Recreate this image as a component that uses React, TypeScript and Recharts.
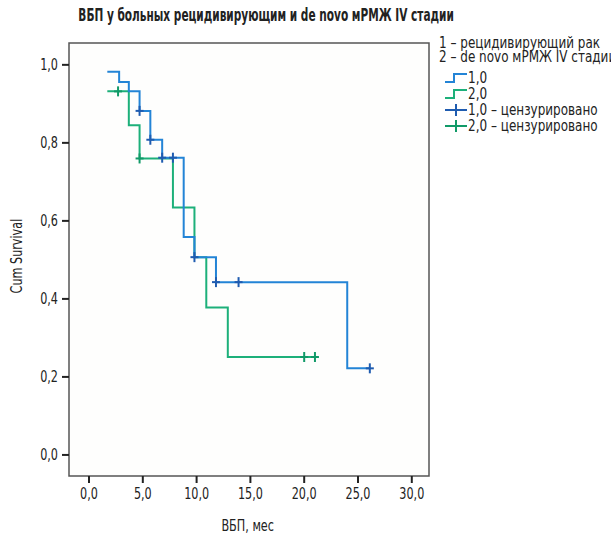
import {
  ComposedChart,
  Line,
  Scatter,
  XAxis,
  YAxis,
  ReferenceArea,
} from "recharts";

const FONT = "'DejaVu Sans Condensed', 'DejaVu Sans', sans-serif";
const SQUEEZE = 0.78; // reference font is a narrow one
const BLUE = "#2384d6";
const BLUE_MARK = "#1f5cb0";
const GREEN = "#1db07a";
const GREEN_MARK = "#119a68";

// group 1,0 – recurrent
const blueTimes = [1.7, 2.8, 3.7, 4.7, 5.7, 6.8, 8.8, 9.8, 11.8, 24.0, 26.1];
const blueSurv = [0.982, 0.956, 0.932, 0.882, 0.808, 0.762, 0.559, 0.507, 0.443, 0.222, 0.222];
const blueCensTimes = [4.7, 5.7, 6.8, 7.8, 9.8, 11.8, 13.9, 26.1];
const blueCensSurv = [0.882, 0.808, 0.762, 0.762, 0.507, 0.443, 0.443, 0.222];

// group 2,0 – de novo
const greenTimes = [1.7, 3.7, 4.7, 7.8, 9.8, 10.9, 12.9, 21.0];
const greenSurv = [0.932, 0.845, 0.76, 0.634, 0.507, 0.378, 0.251, 0.251];
const greenCensTimes = [2.7, 4.7, 20.0, 21.0];
const greenCensSurv = [0.932, 0.76, 0.251, 0.251];

const xTicks = [0, 5, 10, 15, 20, 25, 30];
const yTicks = [0, 0.2, 0.4, 0.6, 0.8, 1.0];
const xMin = -1.86;
const xMax = 31.6;
const yMin = -0.054;
const yMax = 1.056;

const zip = (t: number[], s: number[]) => t.map((x, i) => ({ t: x, s: s[i] }));

const blueLine = zip(blueTimes, blueSurv);
const greenLine = zip(greenTimes, greenSurv);
const blueCens = zip(blueCensTimes, blueCensSurv);
const greenCens = zip(greenCensTimes, greenCensSurv);

const fmt = (v: number) => v.toFixed(1).replace(".", ",");

const plus = (color: string) => (props: any) => {
  const { cx, cy } = props;
  return (
    <g stroke={color} strokeWidth={2}>
      <line x1={cx - 4} y1={cy} x2={cx + 4} y2={cy} />
      <line x1={cx} y1={cy - 5} x2={cx} y2={cy + 5} />
    </g>
  );
};

const XTick = (props: any) => {
  const { x, y, payload } = props;
  return (
    <g transform={`translate(${x},${y})`}>
      <text transform={`scale(${SQUEEZE},1)`} textAnchor="middle" dy={14} fontSize={16} fill="#222">
        {fmt(payload.value)}
      </text>
    </g>
  );
};

const YTick = (props: any) => {
  const { x, y, payload } = props;
  return (
    <g transform={`translate(${x - 2},${y})`}>
      <text transform={`scale(${SQUEEZE},1)`} textAnchor="end" dy={5} fontSize={16} fill="#222">
        {fmt(payload.value)}
      </text>
    </g>
  );
};

const StepIcon = ({ color }: { color: string }) => (
  <svg width={24} height={14} style={{ display: "block", flex: "none" }}>
    <polyline points="1,11 10,11 10,3 23,3" fill="none" stroke={color} strokeWidth={2} />
  </svg>
);

const PlusIcon = ({ color }: { color: string }) => (
  <svg width={24} height={14} style={{ display: "block", flex: "none" }}>
    <line x1={1} y1={7} x2={23} y2={7} stroke={color} strokeWidth={2} />
    <line x1={12} y1={1} x2={12} y2={13} stroke={color} strokeWidth={2} />
  </svg>
);

const Narrow = ({
  children,
  origin = "left",
  k = SQUEEZE,
}: {
  children: any;
  origin?: string;
  k?: number;
}) => (
  <span
    style={{
      display: "inline-block",
      transform: `scaleX(${k})`,
      transformOrigin: origin,
      whiteSpace: "nowrap",
    }}
  >
    {children}
  </span>
);

const LEG_K = 0.89;

const legendRow: React.CSSProperties = {
  display: "flex",
  alignItems: "center",
  height: 16,
  lineHeight: "16px",
  whiteSpace: "nowrap",
};

export default function App() {
  return (
    <div
      style={{
        position: "absolute",
        left: 0,
        top: 0,
        width: 611,
        height: 540,
        overflow: "hidden",
        background: "#fff",
        fontFamily: FONT,
        color: "#222",
      }}
    >
      <div
        style={{
          position: "absolute",
          left: 266 - 300,
          top: 5,
          width: 600,
          textAlign: "center",
          fontWeight: "bold",
          fontSize: 17,
          lineHeight: "20px",
        }}
      >
        <Narrow origin="center" k={0.69}>
          ВБП у больных рецидивирующим и de novo мРМЖ IV стадии
        </Narrow>
      </div>

      <div
        style={{
          position: "absolute",
          left: 439,
          top: 36,
          fontSize: 15,
          lineHeight: "14px",
          whiteSpace: "nowrap",
        }}
      >
        <div style={{ height: 14 }}>
          <Narrow k={LEG_K}>1 – рецидивирующий рак</Narrow>
        </div>
        <div style={{ height: 14 }}>
          <Narrow k={LEG_K}>2 – de novo мРМЖ IV стадии</Narrow>
        </div>
        <div style={{ marginLeft: 5, marginTop: 6 }}>
          <div style={legendRow}>
            <StepIcon color={BLUE} />
            <Narrow k={LEG_K}>1,0</Narrow>
          </div>
          <div style={legendRow}>
            <StepIcon color={GREEN} />
            <Narrow k={LEG_K}>2,0</Narrow>
          </div>
          <div style={legendRow}>
            <PlusIcon color={BLUE_MARK} />
            <Narrow k={LEG_K}>1,0 – цензурировано</Narrow>
          </div>
          <div style={legendRow}>
            <PlusIcon color={GREEN_MARK} />
            <Narrow k={LEG_K}>2,0 – цензурировано</Narrow>
          </div>
        </div>
      </div>

      <div
        style={{
          position: "absolute",
          left: 17 - 60,
          top: 256 - 10,
          width: 120,
          height: 20,
          lineHeight: "20px",
          fontSize: 16,
          textAlign: "center",
          transform: "rotate(-90deg)",
        }}
      >
        <Narrow origin="center">Cum Survival</Narrow>
      </div>

      <div
        style={{
          position: "absolute",
          left: 248 - 60,
          top: 516,
          width: 120,
          lineHeight: "20px",
          fontSize: 16,
          textAlign: "center",
        }}
      >
        <Narrow origin="center">ВБП, мес</Narrow>
      </div>

      <ComposedChart
        width={611}
        height={540}
        margin={{ top: 43, right: 182, bottom: 34, left: 0 }}
        style={{ fontFamily: FONT }}
      >
        <XAxis
          dataKey="t"
          type="number"
          domain={[xMin, xMax]}
          ticks={xTicks}
          allowDataOverflow
          axisLine={false}
          tickSize={7}
          tickLine={{ stroke: "#222", strokeWidth: 2 }}
          tick={<XTick />}
          height={30}
        />
        <YAxis
          dataKey="s"
          type="number"
          domain={[yMin, yMax]}
          ticks={yTicks}
          allowDataOverflow
          axisLine={false}
          tickSize={7}
          tickLine={{ stroke: "#222", strokeWidth: 2 }}
          tick={<YTick />}
          width={69}
        />
        <ReferenceArea
          x1={xMin}
          x2={xMax}
          y1={yMin}
          y2={yMax}
          fill="#fefefd"
          fillOpacity={1}
          stroke="#555"
          strokeWidth={1.5}
        />
        <Line
          data={greenLine}
          dataKey="s"
          type="stepAfter"
          stroke={GREEN}
          strokeWidth={2}
          dot={false}
          activeDot={false}
          isAnimationActive={false}
        />
        <Line
          data={blueLine}
          dataKey="s"
          type="stepAfter"
          stroke={BLUE}
          strokeWidth={2}
          dot={false}
          activeDot={false}
          isAnimationActive={false}
        />
        <Scatter data={greenCens} dataKey="s" shape={plus(GREEN_MARK)} isAnimationActive={false} />
        <Scatter data={blueCens} dataKey="s" shape={plus(BLUE_MARK)} isAnimationActive={false} />
      </ComposedChart>
    </div>
  );
}
